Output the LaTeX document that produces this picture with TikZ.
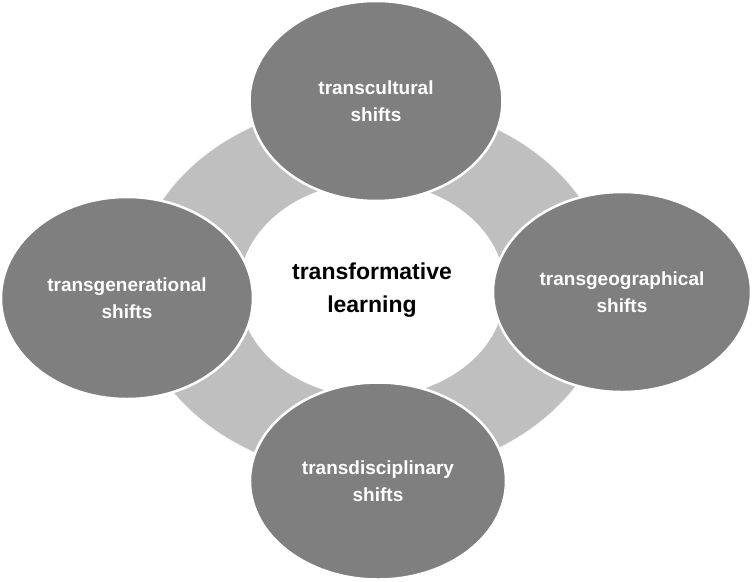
\documentclass[tikz,border=0pt]{standalone}
\usepackage{fontspec}
\setmainfont{Liberation Sans}
\usetikzlibrary{shapes.geometric}
\definecolor{darkg}{HTML}{7F7F7F}
\definecolor{lightg}{HTML}{BFBFBF}
\tikzset{
  outerell/.style={ellipse, fill=darkg, draw=white, line width=2.5pt, inner sep=0pt,
    text=white, align=center, font=\fontsize{19}{27}\selectfont\bfseries},
  centerell/.style={ellipse, fill=white, inner sep=0pt, align=center,
    text=black, font=\fontsize{23}{33}\selectfont\bfseries},
}
\begin{document}
\begin{tikzpicture}[x=1pt,y=-1pt]
\useasboundingbox (0,0) rectangle (754,581);
\fill[white] (0,0) rectangle (754,581);
% ring
\fill[lightg, even odd rule] (372,289) ellipse [x radius=238, y radius=188]
      (372,289) ellipse [x radius=133, y radius=107];
\draw[white!85!lightg, line width=0.8pt] (372,289) ellipse [x radius=238, y radius=188];
\node[centerell, minimum width=266pt, minimum height=214pt] (center) at (372,290) {transformative\\learning};
% outer ellipses
\node[outerell, minimum width=253pt, minimum height=200pt] (top) at (376,101) {transcultural\\shifts};
\node[outerell, minimum width=252pt, minimum height=202pt] (left) at (127,298) {transgenerational\\shifts};
\node[outerell, minimum width=258pt, minimum height=200pt] (right) at (622,292) {transgeographical\\shifts};
\node[outerell, minimum width=256pt, minimum height=197pt] (bottom) at (378,481) {transdisciplinary\\shifts};
\end{tikzpicture}
\end{document}
